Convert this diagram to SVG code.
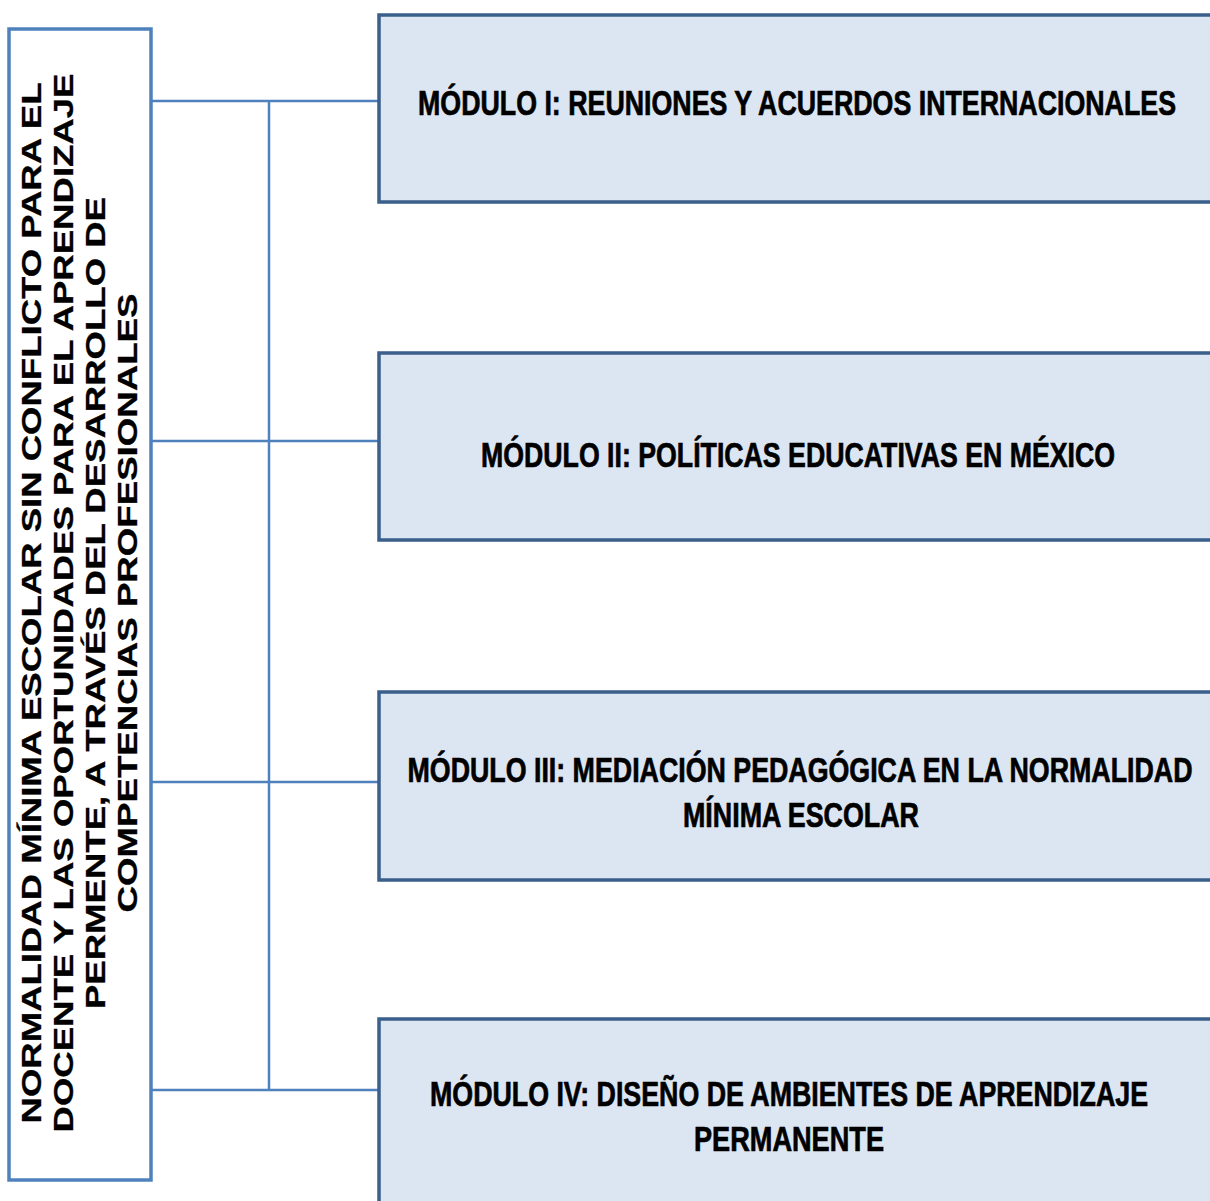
<svg xmlns="http://www.w3.org/2000/svg" width="1210" height="1201" viewBox="0 0 1210 1201">
<style>
.root{fill:#ffffff;stroke:#4f81bd;stroke-width:3.5}
.fill{fill:#dce6f2;stroke:none}
.edge{fill:none;stroke:#3a5f8b;stroke-width:3.5}
.conn{fill:none;stroke:#4f81bd;stroke-width:2.5}
.lt{font-family:"Liberation Sans",Arial,sans-serif;font-weight:bold;font-size:28px;fill:#000;stroke:#000;stroke-width:0.3;text-anchor:middle}
.mt{font-family:"Liberation Sans",Arial,sans-serif;font-weight:bold;font-size:22px;fill:#000;stroke:#000;stroke-width:0.45;text-anchor:middle}
</style>
<rect width="1210" height="1201" fill="#ffffff"/>
<g id="connectors">
<line class="conn" x1="152" y1="101" x2="379" y2="101"/>
<line class="conn" x1="152" y1="441" x2="379" y2="441"/>
<line class="conn" x1="152" y1="782" x2="379" y2="782"/>
<line class="conn" x1="152" y1="1090" x2="379" y2="1090"/>
<line class="conn" x1="269" y1="101" x2="269" y2="1090"/>
</g>
<g id="root">
<rect class="root" x="9" y="29" width="142" height="1151"/>
<g transform="translate(0,603) rotate(-90)">
<text class="lt" x="0" y="41" textLength="1041" lengthAdjust="spacingAndGlyphs">NORMALIDAD MÍNIMA ESCOLAR SIN CONFLICTO PARA EL</text>
<text class="lt" x="0" y="73" textLength="1059" lengthAdjust="spacingAndGlyphs">DOCENTE Y LAS OPORTUNIDADES PARA EL APRENDIZAJE</text>
<text class="lt" x="0" y="105" textLength="812" lengthAdjust="spacingAndGlyphs">PERMENTE, A TRAVÉS DEL DESARROLLO DE</text>
<text class="lt" x="0" y="137" textLength="619" lengthAdjust="spacingAndGlyphs">COMPETENCIAS PROFESIONALES</text>
</g>
</g>
<g id="modulo1">
<rect class="fill" x="379" y="15" width="831" height="187"/>
<path class="edge" d="M1210,15 H379 V202 H1210"/>
<text class="mt" transform="translate(797,115) scale(1,1.636)" x="0" y="0" textLength="758" lengthAdjust="spacingAndGlyphs">MÓDULO I: REUNIONES Y ACUERDOS INTERNACIONALES</text>
</g>
<g id="modulo2">
<rect class="fill" x="379" y="353" width="831" height="187"/>
<path class="edge" d="M1210,353 H379 V540 H1210"/>
<text class="mt" transform="translate(798,467) scale(1,1.636)" x="0" y="0" textLength="634" lengthAdjust="spacingAndGlyphs">MÓDULO II: POLÍTICAS EDUCATIVAS EN MÉXICO</text>
</g>
<g id="modulo3">
<rect class="fill" x="379" y="692" width="831" height="188"/>
<path class="edge" d="M1210,692 H379 V880 H1210"/>
<text class="mt" transform="translate(800,782) scale(1,1.636)" x="0" y="0" textLength="785" lengthAdjust="spacingAndGlyphs">MÓDULO III: MEDIACIÓN PEDAGÓGICA EN LA NORMALIDAD</text>
<text class="mt" transform="translate(801,827) scale(1,1.636)" x="0" y="0" textLength="236" lengthAdjust="spacingAndGlyphs">MÍNIMA ESCOLAR</text>
</g>
<g id="modulo4">
<rect class="fill" x="379" y="1019" width="831" height="182"/>
<path class="edge" d="M1210,1019 H379 V1201"/>
<text class="mt" transform="translate(789,1106) scale(1,1.636)" x="0" y="0" textLength="718" lengthAdjust="spacingAndGlyphs">MÓDULO IV: DISEÑO DE AMBIENTES DE APRENDIZAJE</text>
<text class="mt" transform="translate(789,1151) scale(1,1.636)" x="0" y="0" textLength="190" lengthAdjust="spacingAndGlyphs">PERMANENTE</text>
</g>
</svg>
